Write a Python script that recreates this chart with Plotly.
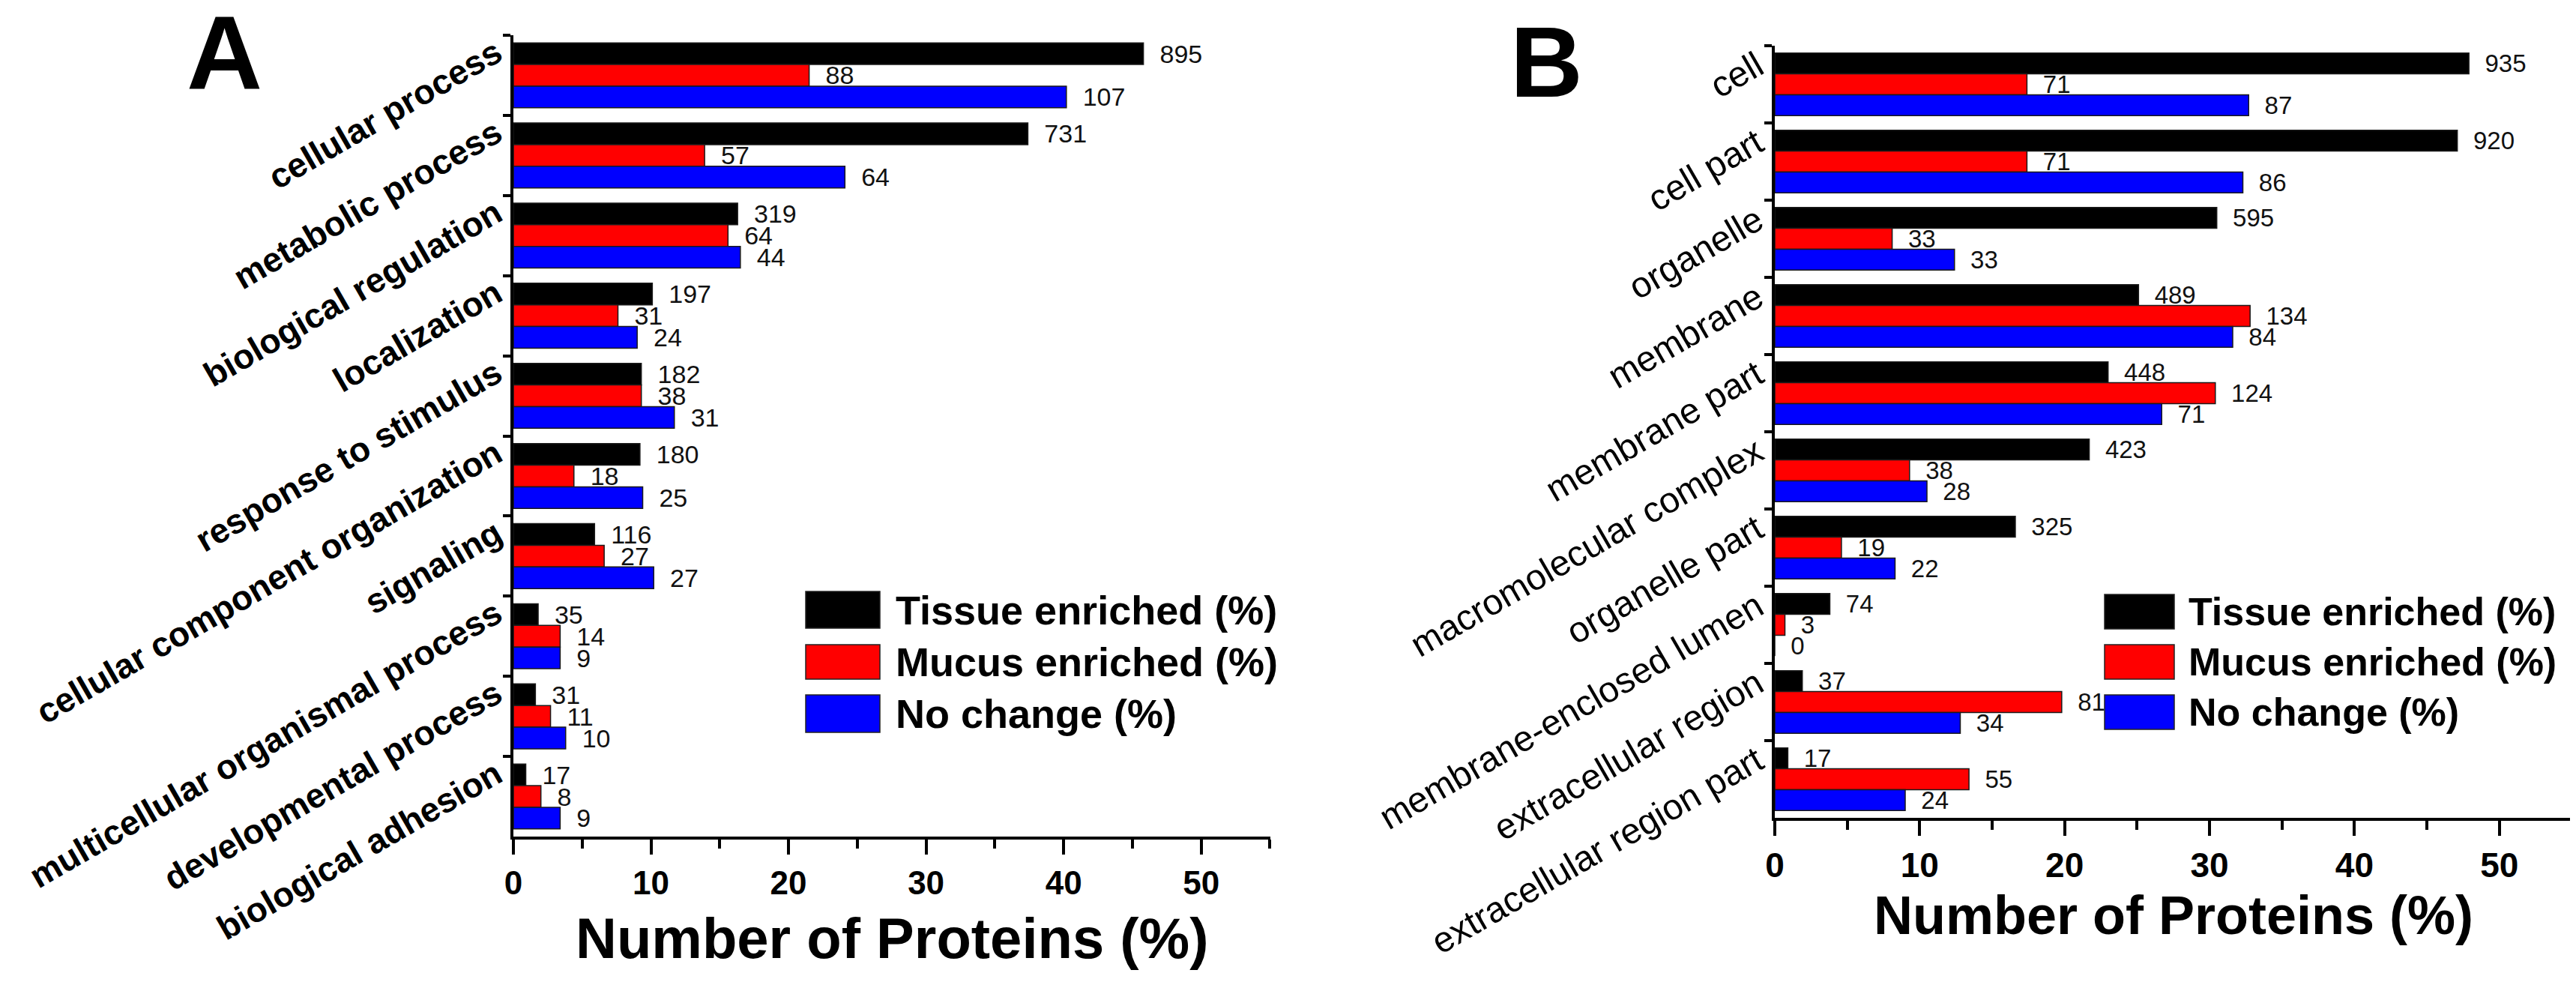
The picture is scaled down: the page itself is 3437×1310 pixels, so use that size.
import plotly.graph_objects as go

W, H = 3437, 1310

# ---------------- data ----------------
cats_a = ["cellular process", "metabolic process", "biological regulation", "localization",
          "response to stimulus", "cellular component organization", "signaling",
          "multicellular organismal process", "developmental process", "biological adhesion"]
tissue_a_pct = [45.8, 37.4, 16.3, 10.1, 9.3, 9.2, 5.9, 1.8, 1.6, 0.9]
mucus_a_pct = [21.5, 13.9, 15.6, 7.6, 9.3, 4.4, 6.6, 3.4, 2.7, 2.0]
nochange_a_pct = [40.2, 24.1, 16.5, 9.0, 11.7, 9.4, 10.2, 3.4, 3.8, 3.4]
tissue_a_n = [895, 731, 319, 197, 182, 180, 116, 35, 31, 17]
mucus_a_n = [88, 57, 64, 31, 38, 18, 27, 14, 11, 8]
nochange_a_n = [107, 64, 44, 24, 31, 25, 27, 9, 10, 9]

cats_b = ["cell", "cell part", "organelle", "membrane", "membrane part", "macromolecular complex",
          "organelle part", "membrane-enclosed lumen", "extracellular region", "extracellular region part"]
tissue_b_pct = [47.9, 47.1, 30.5, 25.1, 23.0, 21.7, 16.6, 3.8, 1.9, 0.9]
mucus_b_pct = [17.4, 17.4, 8.1, 32.8, 30.4, 9.3, 4.6, 0.7, 19.8, 13.4]
nochange_b_pct = [32.7, 32.3, 12.4, 31.6, 26.7, 10.5, 8.3, 0.0, 12.8, 9.0]
tissue_b_n = [935, 920, 595, 489, 448, 423, 325, 74, 37, 17]
mucus_b_n = [71, 71, 33, 134, 124, 38, 19, 3, 81, 55]
nochange_b_n = [87, 86, 33, 84, 71, 28, 22, 0, 34, 24]

series_names = ["Tissue enriched (%)", "Mucus enriched (%)", "No change (%)"]
series_colors = ["#000000", "#FF0000", "#0000FF"]
x_ticks = [0, 10, 20, 30, 40, 50]
x_title = "Number of Proteins (%)"

FONT = "Liberation Sans, Arial, sans-serif"


def px(x):
    return x / W


def py(y):
    return 1 - y / H


fig = go.Figure()

panels = [
    ("x", "y", cats_a, [tissue_a_pct, mucus_a_pct, nochange_a_pct],
     [tissue_a_n, mucus_a_n, nochange_a_n], 34),
    ("x2", "y2", cats_b, [tissue_b_pct, mucus_b_pct, nochange_b_pct],
     [tissue_b_n, mucus_b_n, nochange_b_n], 33),
]
for xa, ya, cats, vals, counts, fsize in panels:
    for name, col, v, n in zip(series_names, series_colors, vals, counts):
        fig.add_trace(go.Bar(
            y=cats, x=v, orientation="h", name=name, xaxis=xa, yaxis=ya,
            marker=dict(color=col, line=dict(color="#1a1a1a", width=1.5)),
            text=[str(c) for c in n], texttemplate="\u00a0\u00a0%{text}",
            textposition="outside", constraintext="none",
            cliponaxis=False, textfont=dict(family=FONT, size=fsize, color="#111"),
            showlegend=False,
        ))

axis_common = dict(showgrid=False, zeroline=False, showline=True, linecolor="black",
                   linewidth=4, ticks="outside", tickcolor="black", tickwidth=4,
                   automargin=False)

fig.update_layout(
    width=W, height=H, margin=dict(l=0, r=0, t=0, b=0),
    paper_bgcolor="white", plot_bgcolor="white",
    barmode="group", bargap=0.19, bargroupgap=0,
    xaxis=dict(domain=[px(677), px(1687)], anchor="y", range=[0, 55.03],
               tickvals=x_ticks, ticklen=20,
               minor=dict(dtick=5, ticklen=12, tickwidth=4, tickcolor="black", ticks="outside"),
               tickfont=dict(family=FONT, size=44, color="black", weight="bold"), **axis_common),
    yaxis=dict(domain=[py(1108), py(39)], anchor="x", autorange="reversed",
               tickson="boundaries", ticklen=10, tickangle=-30, ticklabelshift=35,
               ticklabelstandoff=10,
               tickfont=dict(family=FONT, size=46, color="black", weight="bold"), **axis_common),
    xaxis2=dict(domain=[px(2360), px(3424)], anchor="y2", range=[0, 55.03],
                tickvals=x_ticks, ticklen=20,
                minor=dict(dtick=5, ticklen=12, tickwidth=4, tickcolor="black", ticks="outside"),
                tickfont=dict(family=FONT, size=46, color="black", weight="bold"), **axis_common),
    yaxis2=dict(domain=[py(1083), py(53)], anchor="x2", autorange="reversed",
                tickson="boundaries", ticklen=10, tickangle=-30, ticklabelshift=30,
                ticklabelstandoff=10,
                tickfont=dict(family=FONT, size=48, color="black"), **axis_common),
)

annotations = [
    dict(text="A", x=px(291), y=py(62),
         font=dict(family=FONT, size=140, color="black", weight="bold")),
    dict(text="B", x=px(2055), y=py(74),
         font=dict(family="Liberation Sans Narrow, Liberation Sans, Arial", size=134, color="black", weight="bold")),
    dict(text=x_title, x=px(1182), y=py(1243),
         font=dict(family=FONT, size=76, color="black", weight="bold")),
    dict(text=x_title, x=px(2892), y=py(1213),
         font=dict(family=FONT, size=72, color="black", weight="bold")),
]
for a in annotations:
    a.update(xref="paper", yref="paper", showarrow=False, xanchor="center", yanchor="middle")

# custom legends (large swatches)
legend_specs = [
    (1067, 1166, [(781, 830), (852, 898), (919, 969)], 1185, 54),
    (2800, 2893, [(785, 831), (852, 898), (919, 965)], 2910, 52),
]
shapes = []
for x0, x1, rows, tx, fs in legend_specs:
    for (y0, y1), name, col in zip(rows, series_names, series_colors):
        shapes.append(dict(type="rect", xref="paper", yref="paper",
                           x0=px(x0), x1=px(x1), y0=py(y1), y1=py(y0),
                           fillcolor=col, line=dict(color="#222", width=1.5)))
        annotations.append(dict(text=name, xref="paper", yref="paper", x=px(tx), y=py((y0 + y1) / 2),
                                xanchor="left", yanchor="middle", showarrow=False,
                                font=dict(family=FONT, size=fs, color="black", weight="bold")))

fig.update_layout(annotations=annotations, shapes=shapes)
fig.write_html("out.html")
